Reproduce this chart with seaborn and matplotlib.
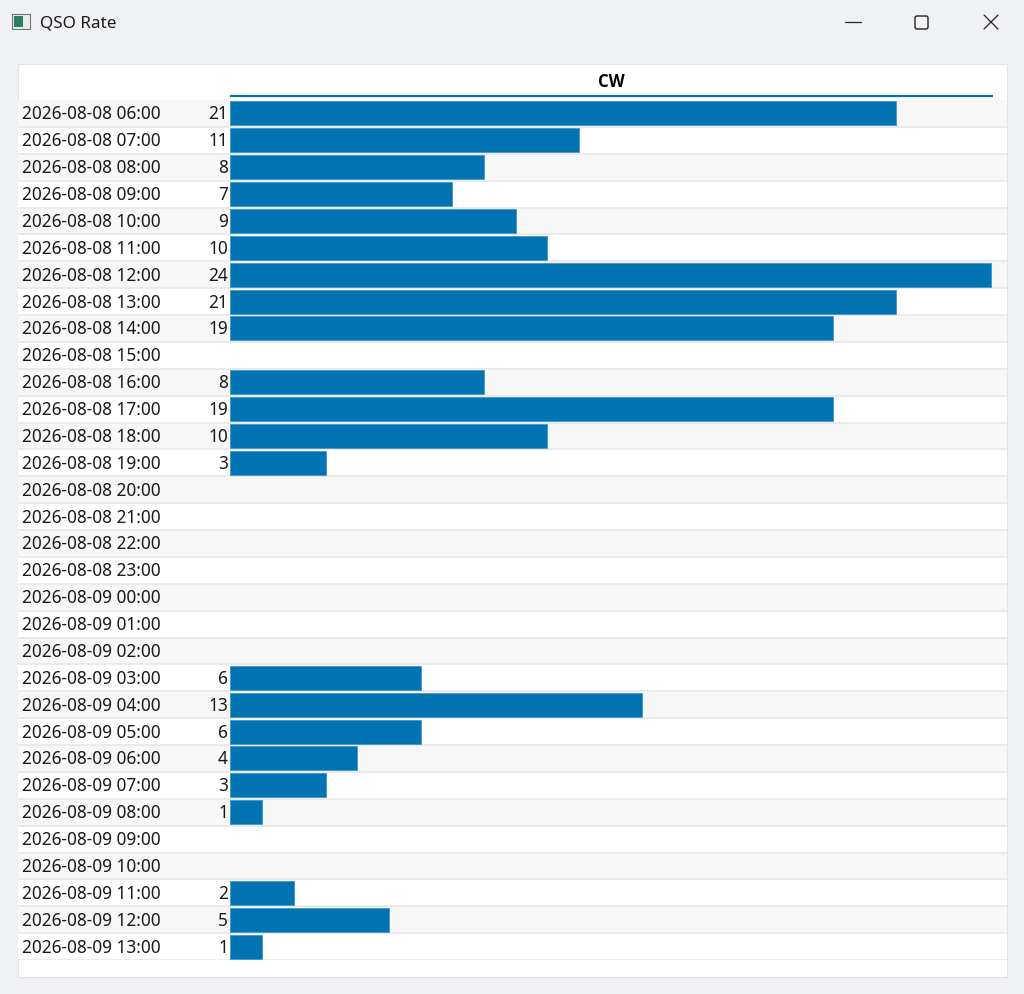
import matplotlib
matplotlib.use("Agg")
import matplotlib.pyplot as plt
import matplotlib.patches as mpatches
import pandas as pd
import seaborn as sns

# QSO counts per hour (CW)
hours = [
    "2026-08-08 06:00", "2026-08-08 07:00", "2026-08-08 08:00", "2026-08-08 09:00",
    "2026-08-08 10:00", "2026-08-08 11:00", "2026-08-08 12:00", "2026-08-08 13:00",
    "2026-08-08 14:00", "2026-08-08 15:00", "2026-08-08 16:00", "2026-08-08 17:00",
    "2026-08-08 18:00", "2026-08-08 19:00", "2026-08-08 20:00", "2026-08-08 21:00",
    "2026-08-08 22:00", "2026-08-08 23:00", "2026-08-09 00:00", "2026-08-09 01:00",
    "2026-08-09 02:00", "2026-08-09 03:00", "2026-08-09 04:00", "2026-08-09 05:00",
    "2026-08-09 06:00", "2026-08-09 07:00", "2026-08-09 08:00", "2026-08-09 09:00",
    "2026-08-09 10:00", "2026-08-09 11:00", "2026-08-09 12:00", "2026-08-09 13:00",
]
cw_counts = [21, 11, 8, 7, 9, 10, 24, 21, 19, 0, 8, 19, 10, 3, 0, 0,
             0, 0, 0, 0, 0, 6, 13, 6, 4, 3, 1, 0, 0, 2, 5, 1]
mode = "CW"
window_title = "QSO Rate"

df = pd.DataFrame({"hour": hours, "qsos": cw_counts})

sns.set_theme(style="white")
plt.rcParams["font.family"] = ["Noto Sans", "DejaVu Sans"]

W, H = 1024, 995
fig = plt.figure(figsize=(W / 100, H / 100), dpi=100)
fig.patch.set_facecolor("#f0f1f5")

# background axes in pixel coordinates for window chrome
bg = fig.add_axes([0, 0, 1, 1])
bg.set_xlim(0, W)
bg.set_ylim(H, 0)
bg.axis("off")

# title bar
bg.add_patch(mpatches.Rectangle((12, 15), 18, 15, facecolor="#e8ece9", edgecolor="#6f7a76", lw=0.8))
bg.add_patch(mpatches.Rectangle((14, 17), 9, 11, facecolor="#2e7d62", lw=0))
bg.text(40, 23, window_title, fontsize=12.3, va="center", ha="left", color="#1a1a1a")
bg.plot([845, 861], [23, 23], color="#222222", lw=0.9)
bg.add_patch(mpatches.FancyBboxPatch((915, 17), 13, 13, boxstyle="round,pad=0,rounding_size=2",
                                     facecolor="none", edgecolor="#222222", lw=1.0))
bg.plot([984, 998], [16, 30], color="#222222", lw=0.9)
bg.plot([984, 998], [30, 16], color="#222222", lw=0.9)

# white panel
bg.add_patch(mpatches.Rectangle((18, 65), 989, 913, facecolor="white", edgecolor="#e3e3e3", lw=0.8))

# header
bar_x0, bar_x24 = 230.5, 991.0
bg.text((230 + 993) / 2, 82, mode, fontsize=12, fontweight="bold", family=["Open Sans", "DejaVu Sans"],
        ha="center", va="center", color="black")
bg.plot([230, 993], [97, 97], color="#0173b2", lw=1.6, solid_capstyle="butt")

# chart axes
left_px, right_px, top_px, bot_px = 18, 1007, 101, 961
ax = fig.add_axes([left_px / W, 1 - bot_px / H, (right_px - left_px) / W, (bot_px - top_px) / H])
ppu = (bar_x24 - bar_x0) / max(cw_counts)
ax.set_xlim(-(bar_x0 - left_px) / ppu, max(cw_counts) + (right_px - bar_x24) / ppu)

n = len(hours)
for i in range(n):
    ax.axhspan(i - 0.5, i + 0.5, color="#f7f7f7" if i % 2 == 0 else "white", zorder=0, lw=0)
    ax.axhline(i + 0.5, color="#e9e9e9", lw=1.3, zorder=0.5)

sns.barplot(data=df, x="qsos", y="hour", orient="h", color="#0173b2", saturation=1,
            width=0.89, edgecolor="#4b9bd0", linewidth=0.7, ax=ax, zorder=2)
for p in ax.patches:
    if p.get_width() == 0:
        p.set_visible(False)

ax.set_ylim(n - 0.5, -0.5)
ax.axis("off")

lab_x = (22 - bar_x0) / ppu
num_x = (228 - bar_x0) / ppu
for i, (h, c) in enumerate(zip(hours, cw_counts)):
    ax.text(lab_x, i, h, fontsize=12.4, ha="left", va="center", color="#1a1a1a")
    if c > 0:
        ax.text(num_x, i, str(c), fontsize=12.4, ha="right", va="center", color="#1a1a1a")

fig.savefig("out.png", dpi=100, facecolor=fig.get_facecolor())
